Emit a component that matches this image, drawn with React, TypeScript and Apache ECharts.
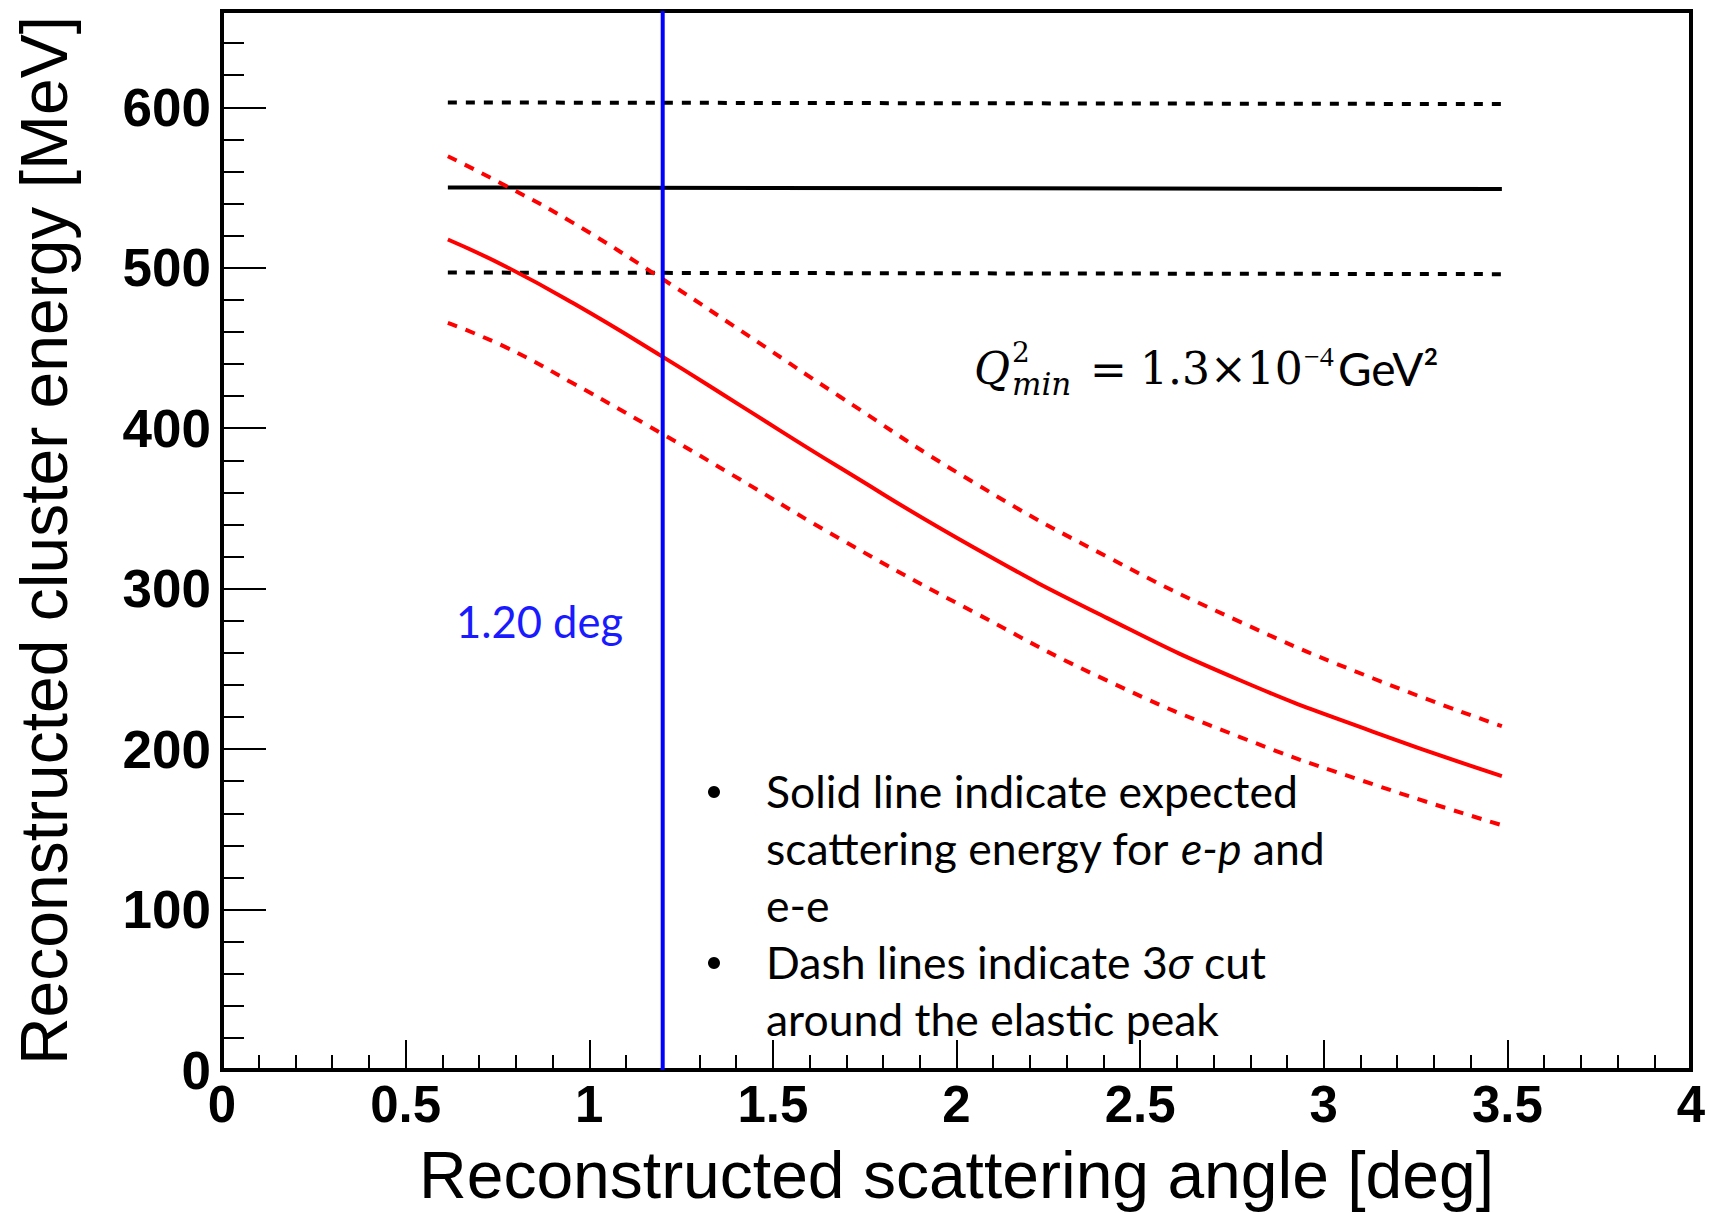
import React, { useEffect, useRef } from "react";
import * as echarts from "echarts";

// Scattering angle samples [deg]
const angleSamples = [0.615, 0.775, 0.957, 1.197, 1.411, 1.683, 2.046, 2.409, 2.772, 3.135, 3.485];
// Expected e-e elastic energy [MeV] (red solid)
const expectedEnergy = [517.6, 500.5, 477.8, 444.9, 414.2, 375.3, 325.8, 281.8, 242.9, 210.8, 183.2];
// +3 sigma and -3 sigma cut (red dashed)
const upperCut = [569.5, 550.8, 527.8, 493.3, 461.0, 419.6, 366.3, 320.0, 279.3, 244.0, 214.3];
const lowerCut = [465.6, 450.2, 427.8, 396.7, 368.0, 331.0, 285.5, 242.8, 207.5, 178.0, 152.6];

// e-p peak (black) and its 3 sigma cut (black dashed)
const flatAngles = [0.615, 3.485];
const epPeak = [550, 549];
const epUpper = [603, 602];
const epLower = [497, 496];

// Angle cut (blue vertical line)
const cutAngle = 1.2;
const cutEnergyRange = [0, 660];
const cutLabel = "1.20 deg";

const xTitle = "Reconstructed scattering angle [deg]";
const yTitle = "Reconstructed cluster energy [MeV]";
const bulletLines = [
  "Solid line indicate expected",
  "scattering energy for {i|e-p} and",
  "e-e",
  "Dash lines indicate 3{i|σ} cut",
  "around the elastic peak",
];

const pairs = (xs: number[], ys: number[]) => xs.map((x, i) => [x, ys[i]]);

export default function App() {
  const ref = useRef<HTMLDivElement>(null);
  useEffect(() => {
    document.body.style.margin = "0";
    if (!ref.current) return;
    const chart = echarts.init(ref.current, undefined, { renderer: "svg" });
    const axisFont = { fontFamily: "Liberation Sans", fontWeight: "bold" as const, color: "#000" };
    const bodyFont = "Lato";
    const serif = "DejaVu Serif";
    const bulletBaselines = [807, 864, 921, 978, 1035];
    const bulletSize = 44.5;

    const graphic: any[] = [
      {
        type: "text",
        x: 456,
        y: 621,
        style: { text: cutLabel, fill: "#1a1aff", fontFamily: bodyFont, fontSize: 43.5, align: "left", verticalAlign: "middle" },
      },
      // Q^2_min = 1.3x10^-4 GeV^2
      { type: "text", x: 974, y: 368, style: { text: "Q", fill: "#000", fontFamily: serif, fontStyle: "italic", fontSize: 44, align: "left", verticalAlign: "middle" } },
      { type: "text", x: 1012, y: 352, style: { text: "2", fill: "#000", fontFamily: serif, fontSize: 28, align: "left", verticalAlign: "middle" } },
      { type: "text", x: 1012, y: 384, style: { text: "min", fill: "#000", fontFamily: serif, fontStyle: "italic", fontSize: 31, align: "left", verticalAlign: "middle" } },
      { type: "text", x: 1090, y: 369, style: { text: "=", fill: "#000", fontFamily: serif, fontSize: 44, align: "left", verticalAlign: "middle" } },
      { type: "text", x: 1140, y: 368, style: { text: "1.3×10", fill: "#000", fontFamily: serif, fontSize: 44, align: "left", verticalAlign: "middle" } },
      { type: "text", x: 1304, y: 356, style: { text: "−4", fill: "#000", fontFamily: "Liberation Serif", fontSize: 28, align: "left", verticalAlign: "middle" } },
      { type: "text", x: 1338, y: 368, style: { text: "GeV²", fill: "#000", fontFamily: bodyFont, fontSize: 46, align: "left", verticalAlign: "middle" } },
    ];
    bulletLines.forEach((line, i) => {
      graphic.push({
        type: "text",
        x: 766,
        y: bulletBaselines[i] - bulletSize * 0.36,
        style: {
          text: line,
          fill: "#000",
          fontFamily: bodyFont,
          fontSize: bulletSize,
          align: "left",
          verticalAlign: "middle",
          rich: { i: { fontFamily: bodyFont, fontStyle: "italic", fontSize: bulletSize, fill: "#000" } },
        },
      });
    });
    [0, 3].forEach((i) => {
      graphic.push({ type: "circle", shape: { cx: 714, cy: bulletBaselines[i] - 15, r: 6 }, style: { fill: "#000" } });
    });

    const option: any = {
      animation: false,
      backgroundColor: "#fff",
      grid: { left: 222, right: 18, top: 11, bottom: 143, show: true, borderColor: "#000", borderWidth: 4, containLabel: false, outerBoundsMode: "none" },
      xAxis: {
        type: "value",
        min: 0,
        max: 4,
        interval: 0.5,
        position: "bottom",
        axisLine: { show: true, onZero: false, lineStyle: { color: "#000", width: 4 } },
        axisTick: { show: true, inside: true, length: 30, lineStyle: { color: "#000", width: 2 } },
        minorTick: { show: true, splitNumber: 5, length: 15, lineStyle: { color: "#000", width: 2 } },
        axisLabel: { ...axisFont, fontSize: 51, margin: 9 },
        splitLine: { show: false },
        minorSplitLine: { show: false },
        name: xTitle,
        nameLocation: "middle",
        nameGap: 72,
        nameTextStyle: { fontFamily: "Liberation Sans", fontSize: 66, color: "#000" },
      },
      yAxis: [
        {
          type: "value",
          min: 0,
          max: 660,
          interval: 100,
          position: "left",
          axisLine: { show: true, onZero: false, lineStyle: { color: "#000", width: 4 } },
          axisTick: { show: true, inside: true, length: 44, lineStyle: { color: "#000", width: 2 } },
          axisLabel: { ...axisFont, fontSize: 53, margin: 11, showMaxLabel: false },
          splitLine: { show: false },
          name: yTitle,
          nameLocation: "middle",
          nameRotate: 90,
          nameGap: 145,
          nameTextStyle: { fontFamily: "Liberation Sans", fontSize: 66, color: "#000" },
        },
        {
          type: "value",
          min: 0,
          max: 660,
          interval: 20,
          position: "left",
          axisLine: { show: false },
          axisTick: { show: true, inside: true, length: 22, lineStyle: { color: "#000", width: 2 } },
          axisLabel: { show: false },
          splitLine: { show: false },
        },
      ],
      series: [
        { name: "e-p peak", type: "line", data: pairs(flatAngles, epPeak), symbol: "none", lineStyle: { color: "#000", width: 4 } },
        { name: "e-p +3σ", type: "line", data: pairs(flatAngles, epUpper), symbol: "none", lineStyle: { color: "#000", width: 4, type: [9, 9] } },
        { name: "e-p -3σ", type: "line", data: pairs(flatAngles, epLower), symbol: "none", lineStyle: { color: "#000", width: 4, type: [9, 9] } },
        { name: "e-e expected", type: "line", data: pairs(angleSamples, expectedEnergy), symbol: "none", smooth: 0.5, lineStyle: { color: "#ff0000", width: 4 } },
        { name: "e-e +3σ", type: "line", data: pairs(angleSamples, upperCut), symbol: "none", smooth: 0.5, lineStyle: { color: "#ff0000", width: 4, type: [10, 9] } },
        { name: "e-e -3σ", type: "line", data: pairs(angleSamples, lowerCut), symbol: "none", smooth: 0.5, lineStyle: { color: "#ff0000", width: 4, type: [10, 9] } },
        { name: "angle cut", type: "line", data: cutEnergyRange.map((e) => [cutAngle, e]), symbol: "none", lineStyle: { color: "#0000ff", width: 4 }, z: 3 },
      ],
      graphic,
    };
    chart.setOption(option);
    return () => chart.dispose();
  }, []);
  return <div ref={ref} style={{ width: 1709, height: 1213 }} />;
}
